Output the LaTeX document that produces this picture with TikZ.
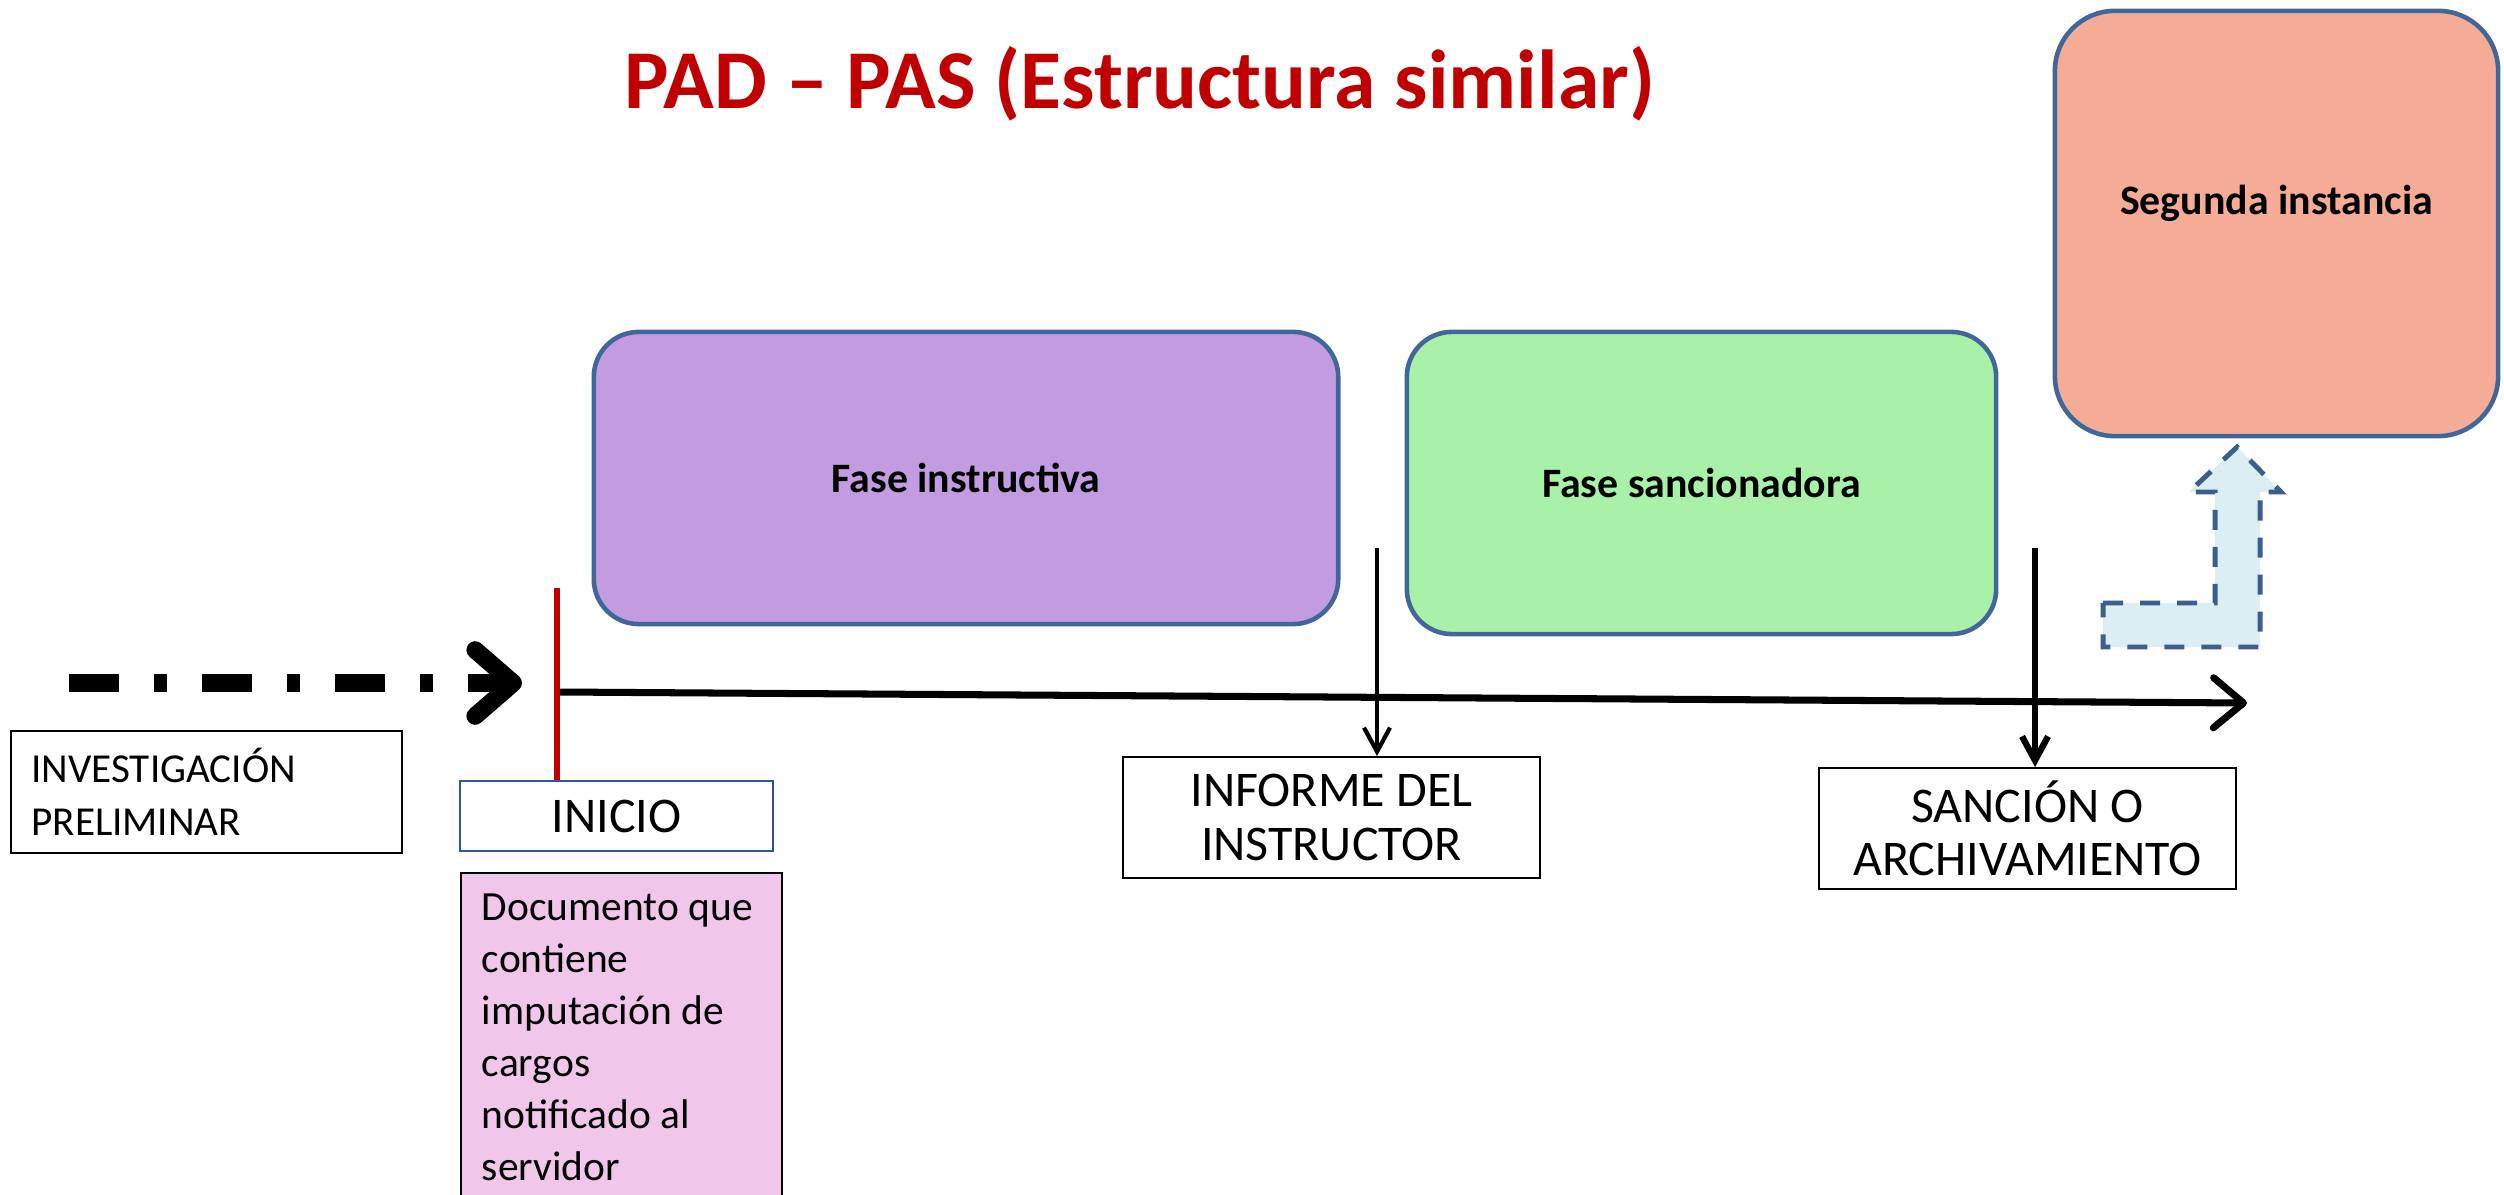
\documentclass[tikz,border=0pt]{standalone}
\usepackage{fontspec}
\setmainfont{Carlito}
\usetikzlibrary{arrows.meta,positioning}
\definecolor{titlered}{HTML}{C00000}
\definecolor{phaseblue}{HTML}{41679A}
\definecolor{instrfill}{HTML}{C39BE1}
\definecolor{sancfill}{HTML}{A9F1A9}
\definecolor{segfill}{HTML}{F4AC96}
\definecolor{docfill}{HTML}{F0C6EB}
\definecolor{inicioblue}{HTML}{2F5597}
\definecolor{bentfill}{HTML}{DAEEF3}
\definecolor{bentline}{HTML}{3B5E8C}
\tikzset{
	title/.style={anchor=base,text=titlered,font=\bfseries\fontsize{23.8}{28}\selectfont},
	phasetext/.style={font=\bfseries\fontsize{11.9}{14}\selectfont},
	phase/.style={draw=phaseblue,line width=1.3pt,rounded corners=0.45cm,phasetext},
	box/.style={draw,rectangle,line width=0.5pt,align=center,font=\fontsize{14.2}{15.1}\selectfont},
	docbox/.style={draw,rectangle,line width=0.5pt,fill=docfill,align=flush left,font=\fontsize{11.8}{14.8}\selectfont},
	dashdot/.style={line width=5pt,dash pattern=on 0.5cm off 0.35cm on 0.13cm off 0.35cm,-{Straight Barb[length=0.38cm,width=0.66cm,round]}},
	timeline/.style={line width=2pt,-{Straight Barb[length=0.3cm,width=0.5cm,round]}},
	startmark/.style={draw=titlered,line width=1.7pt},
	tick/.style={line width=1.2pt,-{Straight Barb[length=0.24cm,width=0.26cm]}},
	bent/.style={draw=bentline,fill=bentfill,line width=1.4pt,dash pattern=on 0.2cm off 0.17cm}
}
\begin{document}
\begin{tikzpicture}[x=0.01cm,y=-0.01cm]
	\useasboundingbox (0,0) rectangle (2504,1195);
	\node[title] (title) at (1140,109) {PAD – PAS (Estructura similar)};
	\node[phase,fill=instrfill,minimum width=7.44cm,minimum height=2.92cm] (instr) at (966,478) {Fase instructiva};
	\node[phase,fill=sancfill,minimum width=5.89cm,minimum height=3.02cm] (sanc) at (1701.5,483) {Fase sancionadora};
	\node[phase,fill=segfill,rounded corners=0.6cm,minimum width=4.43cm,minimum height=4.25cm,
		label={[phasetext,yshift=0.2cm]center:Segunda instancia}] (seg) at (2276.5,223.5) {};
	\node[box,align=left,text width=3.5cm,minimum width=3.91cm,minimum height=1.22cm,
		font=\fontsize{11.7}{15.1}\selectfont] (invest) at (206.5,792) {INVESTIGACIÓN\\PRELIMINAR};
	\node[box,draw=inicioblue,minimum width=3.13cm,minimum height=0.70cm] (inicio) at (616.5,816) {INICIO};
	\node[docbox,anchor=north west,text width=2.79cm,inner xsep=0.21cm,inner ysep=0.21cm] (doc) at (460,872)
		{Documento que\\contiene\\imputación de\\cargos\\notificado al\\servidor};
	\node[box,minimum width=4.17cm,minimum height=1.21cm] (informe) at (1331.5,817.5) {INFORME DEL\\INSTRUCTOR};
	\node[box,minimum width=4.17cm,minimum height=1.21cm] (sancion) at (2027.5,828.5) {SANCIÓN O\\ARCHIVAMIENTO};
	\coordinate (pre) at (69,683);
	\coordinate (go) at (522,683);
	\draw[dashdot] (pre) -- (go);
	\coordinate (start) at (557,692);
	\coordinate (stop) at (2247,703);
	\draw[timeline] (start) -- (stop);
	\coordinate (redtop) at (557,588);
	\draw[startmark] (redtop) -- (redtop |- inicio.north);
	\coordinate (inftop) at (1377,548);
	\draw[tick] (inftop) -- (inftop |- informe.north);
	\coordinate (sanctop) at (2035,548);
	\draw[tick,line width=1.8pt] (sanctop) -- (sanctop |- sancion.north);
	\draw[bent] (2103,603) -- (2215,603) -- (2215,492) -- (2189,492) -- (2237,447) -- (2281,492)
		-- (2260,492) -- (2260,647) -- (2103,647) -- cycle;
\end{tikzpicture}
\end{document}
